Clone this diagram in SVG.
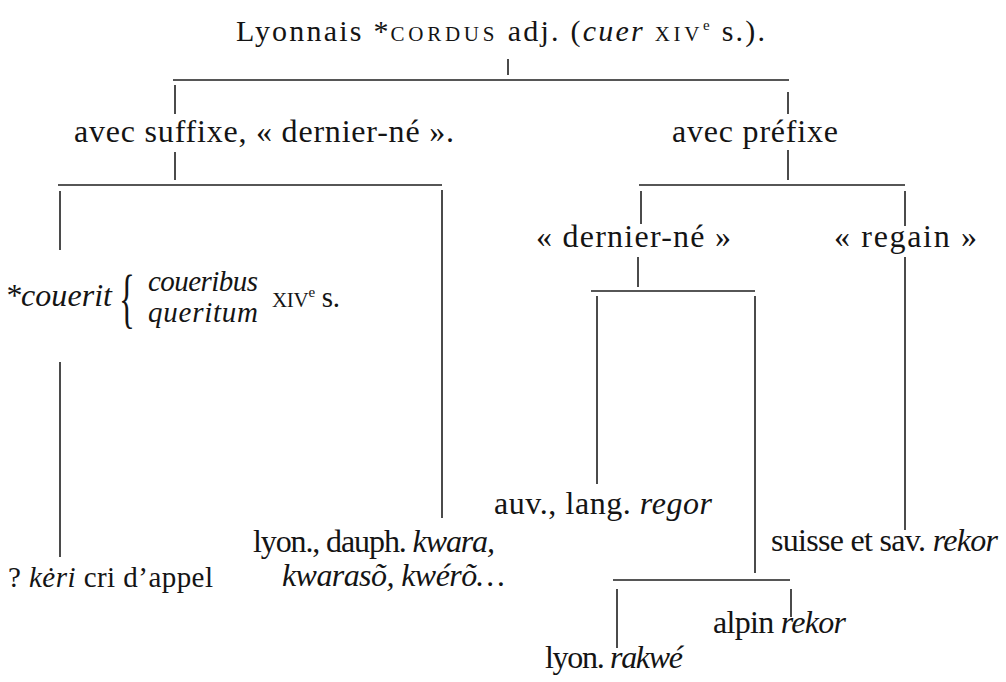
<svg xmlns="http://www.w3.org/2000/svg" width="1006" height="682" viewBox="0 0 1006 682" font-family="'Liberation Serif', 'DejaVu Serif', 'Times New Roman', serif">
<style>
text{font-family:'Liberation Serif','DejaVu Serif','Times New Roman',serif;fill:#141414;font-size:32px}
.t{font-size:30px}
.s{font-size:29px}
.i{font-style:italic}
.sc{font-size:21px;letter-spacing:1.5px}
.sup{font-size:15px}
#connectors line{stroke:#1e1e1e;stroke-width:1.6;stroke-linecap:butt}
</style>
<rect width="1006" height="682" fill="#ffffff"/>
<g id="connectors">
<line x1="508" y1="59" x2="508" y2="75"/>
<line x1="173" y1="80" x2="789" y2="80"/>
<line x1="175" y1="85" x2="175" y2="114"/>
<line x1="788" y1="92" x2="788" y2="114"/>
<line x1="175" y1="152" x2="175" y2="180"/>
<line x1="788" y1="150" x2="788" y2="180"/>
<line x1="58" y1="185" x2="442" y2="185"/>
<line x1="639" y1="185" x2="905" y2="185"/>
<line x1="60" y1="191" x2="60" y2="250"/>
<line x1="442" y1="190" x2="442" y2="518"/>
<line x1="641" y1="191" x2="641" y2="224"/>
<line x1="905" y1="191" x2="905" y2="226"/>
<line x1="638" y1="257" x2="638" y2="287"/>
<line x1="591" y1="291" x2="755" y2="291"/>
<line x1="597" y1="296" x2="597" y2="484"/>
<line x1="755" y1="296" x2="755" y2="573"/>
<line x1="905" y1="257" x2="905" y2="530"/>
<line x1="60" y1="362" x2="60" y2="557"/>
<line x1="613" y1="580" x2="790" y2="580"/>
<line x1="617" y1="589" x2="617" y2="648"/>
<line x1="791" y1="589" x2="791" y2="617"/>
</g>
<g id="n-root"><text class="t" x="236" y="41" textLength="529">Lyonnais *<tspan class="sc">CORDUS</tspan> adj. (<tspan class="i">cuer</tspan> <tspan class="sc">XIV</tspan><tspan class="sup" dy="-11">e</tspan><tspan dy="11"> s.).</tspan></text></g>
<g id="n-suffixe"><text x="74" y="142" textLength="380">avec suffixe, « dernier-né ».</text></g>
<g id="n-prefixe"><text x="672" y="142" textLength="166">avec préfixe</text></g>
<g id="n-dernier"><text x="536" y="247" textLength="195">« dernier-né »</text></g>
<g id="n-regain"><text x="834" y="247" textLength="143">« regain »</text></g>
<g id="n-couerit">
<text class="i" x="5" y="306" textLength="107">*couerit</text>
<text transform="translate(119,320) scale(0.5,1)" style="font-size:66px">{</text>
<text class="i s" x="148" y="291" textLength="110">coueribus</text>
<text class="i s" x="148" y="322" textLength="110">queritum</text>
<text class="s" x="272" y="307" textLength="68"><tspan class="sc" style="letter-spacing:0">XIV</tspan><tspan class="sup" dy="-10">e</tspan><tspan dy="10"> s.</tspan></text>
</g>
<g id="n-keri"><text class="s" x="8" y="587" textLength="205">? <tspan class="i">kėri</tspan> cri d’appel</text></g>
<g id="n-kwara">
<text x="253" y="552" textLength="242">lyon., dauph. <tspan class="i">kwara,</tspan></text>
<text class="i" x="282" y="586" textLength="223">kwarasõ, kwérõ…</text>
</g>
<g id="n-auv"><text x="494" y="514" textLength="218">auv., lang. <tspan class="i">regor</tspan></text></g>
<g id="n-suisse"><text x="771" y="551" textLength="227">suisse et sav. <tspan class="i">rekor</tspan></text></g>
<g id="n-alpin"><text x="713" y="633" textLength="133">alpin <tspan class="i">rekor</tspan></text></g>
<g id="n-rakwe"><text x="545" y="668" textLength="138">lyon. <tspan class="i">rakwé</tspan></text></g>
</svg>
